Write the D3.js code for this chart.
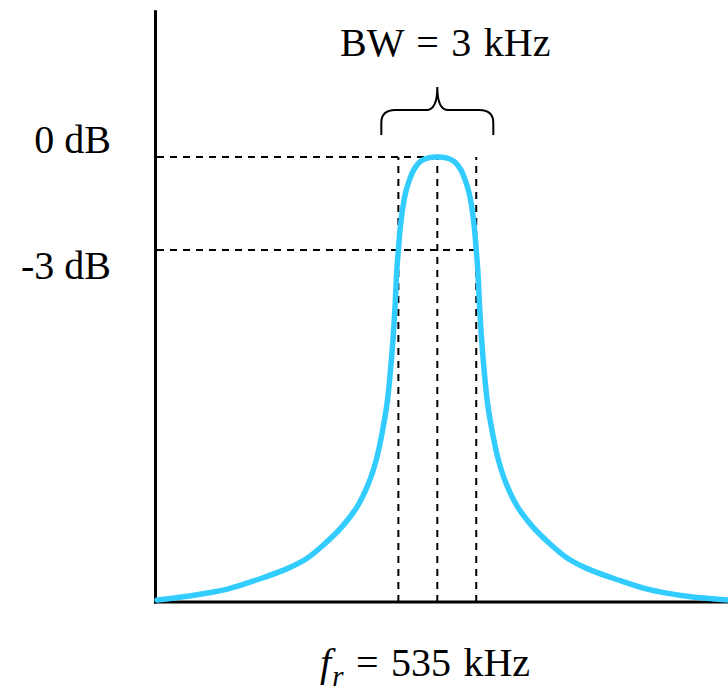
<!DOCTYPE html>
<html>
<head>
<meta charset="utf-8">
<script src="https://cdn.jsdelivr.net/npm/d3@7"></script>
<style>
  html, body { margin: 0; padding: 0; background: #fff; }
  svg { display: block; }
  text { font-family: "Liberation Serif", "Times New Roman", serif; fill: #000; }
</style>
</head>
<body>
<svg id="chart" width="728" height="691"></svg>
<script>
// ---- data (frequency in kHz, relative response 0..1) ----
const centerFreq = 535;
const halfPowerFreqs = [533.5, 536.5];
const bandwidthLabel = "BW = 3 kHz";
const freqLabel = "= 535 kHz";
const levelValues = [1, 0.791];
const levelLabels = ["0 dB", "-3 dB"];
const curveFreqs = [
  524.2, 525.37, 526.91, 528.06, 529.22, 530.00, 530.57, 531.34, 531.92, 532.34,
  532.65, 532.88, 533.07, 533.19, 533.30, 533.38, 533.44, 533.50, 533.58, 533.68,
  533.80, 533.95, 534.10, 534.35, 534.65, 535.00,
  535.35, 535.65, 535.90, 536.05, 536.20, 536.32, 536.42, 536.50, 536.56, 536.62,
  536.70, 536.81, 536.93, 537.12, 537.35, 537.66, 538.08, 538.66, 539.43, 540.00,
  540.78, 541.94, 543.09, 544.63, 546.2
];
const curveLevels = [
  0.0045, 0.013, 0.029, 0.05, 0.075, 0.099, 0.126, 0.17, 0.215, 0.265,
  0.32, 0.382, 0.449, 0.517, 0.596, 0.674, 0.746, 0.791, 0.845, 0.89,
  0.925, 0.952, 0.972, 0.99, 0.998, 1.0,
  0.998, 0.99, 0.972, 0.952, 0.925, 0.89, 0.845, 0.791, 0.746, 0.674,
  0.596, 0.517, 0.449, 0.382, 0.32, 0.265, 0.215, 0.17, 0.126, 0.099,
  0.075, 0.05, 0.029, 0.013, 0.0045
];
const freqDomain = [524.2, 546.2];
const axisTopLevel = 1.33;

// ---- scales ----
const svg = d3.select("#chart");
const x = d3.scaleLinear().domain(freqDomain).range([157, 728]);
const y = d3.scaleLinear().domain([0, 1]).range([602, 157]);

const dash = "7,6";

// dashed reference lines
const g = svg.append("g");
g.append("line")
  .attr("x1", x(freqDomain[0])).attr("x2", x(centerFreq + 0.23))
  .attr("y1", y(levelValues[0])).attr("y2", y(levelValues[0]))
  .attr("stroke", "#000").attr("stroke-width", 2).attr("stroke-dasharray", dash);
g.append("line")
  .attr("x1", x(freqDomain[0])).attr("x2", x(halfPowerFreqs[1]))
  .attr("y1", y(levelValues[1])).attr("y2", y(levelValues[1]))
  .attr("stroke", "#000").attr("stroke-width", 2).attr("stroke-dasharray", dash);
const verticalFreqs = [halfPowerFreqs[0], centerFreq, halfPowerFreqs[1]];
g.selectAll("line.v").data(verticalFreqs).enter().append("line")
  .attr("class", "v")
  .attr("x1", d => x(d)).attr("x2", d => x(d))
  .attr("y1", y(0)).attr("y2", y(1))
  .attr("stroke", "#000").attr("stroke-width", 2).attr("stroke-dasharray", dash);

// axes
svg.append("line")
  .attr("x1", x(freqDomain[0]) - 1.5).attr("x2", x(freqDomain[0]) - 1.5)
  .attr("y1", y(0) + 1.5).attr("y2", y(axisTopLevel))
  .attr("stroke", "#000").attr("stroke-width", 3);
svg.append("line")
  .attr("x1", x(freqDomain[0]) - 3).attr("x2", x(freqDomain[1]))
  .attr("y1", y(0)).attr("y2", y(0))
  .attr("stroke", "#000").attr("stroke-width", 3);

// curve
const pts = curveFreqs.map((f, i) => [f, curveLevels[i]]);
const line = d3.line().x(d => x(d[0])).y(d => y(d[1])).curve(d3.curveCatmullRom.alpha(0.5));
svg.append("path")
  .attr("d", line(pts))
  .attr("fill", "none")
  .attr("stroke", "#33CCFF")
  .attr("stroke-width", 5.5)
  .attr("stroke-linecap", "round");

// level labels
const labelOffsets = [-4, 29];
svg.selectAll("text.lvl").data(levelValues).enter().append("text")
  .attr("class", "lvl")
  .attr("x", 111)
  .attr("y", (d, i) => y(d) + labelOffsets[i])
  .attr("text-anchor", "end")
  .attr("font-size", 40)
  .text((d, i) => levelLabels[i]);

// brace
const cx = x(centerFreq);
const by = 110, bEnd = 135, bTop = 87;
const bl = cx - 56, br = cx + 56;
const bracePath = d3.path();
bracePath.moveTo(bl, bEnd);
bracePath.lineTo(bl, by + 13);
bracePath.quadraticCurveTo(bl, by, bl + 14, by);
bracePath.lineTo(cx - 11, by);
bracePath.quadraticCurveTo(cx, by, cx, bTop);
bracePath.quadraticCurveTo(cx, by, cx + 11, by);
bracePath.lineTo(br - 14, by);
bracePath.quadraticCurveTo(br, by, br, by + 13);
bracePath.lineTo(br, bEnd);
svg.append("path").attr("d", bracePath.toString())
  .attr("fill", "none").attr("stroke", "#000").attr("stroke-width", 2);

// BW label
svg.append("text")
  .attr("x", cx + 8).attr("y", 56)
  .attr("text-anchor", "middle")
  .attr("font-size", 40)
  .attr("word-spacing", 2.5)
  .text(bandwidthLabel);

// f_r label
const ft = svg.append("text")
  .attr("x", 320).attr("y", 676)
  .attr("font-size", 40)
  .attr("word-spacing", 2.5);
ft.append("tspan").attr("font-style", "italic").text("f");
ft.append("tspan").attr("font-style", "italic").attr("font-size", 29).attr("dy", 10).attr("dx", 1).text("r");
ft.append("tspan").attr("dy", -10).text(" " + freqLabel);
</script>
</body>
</html>
